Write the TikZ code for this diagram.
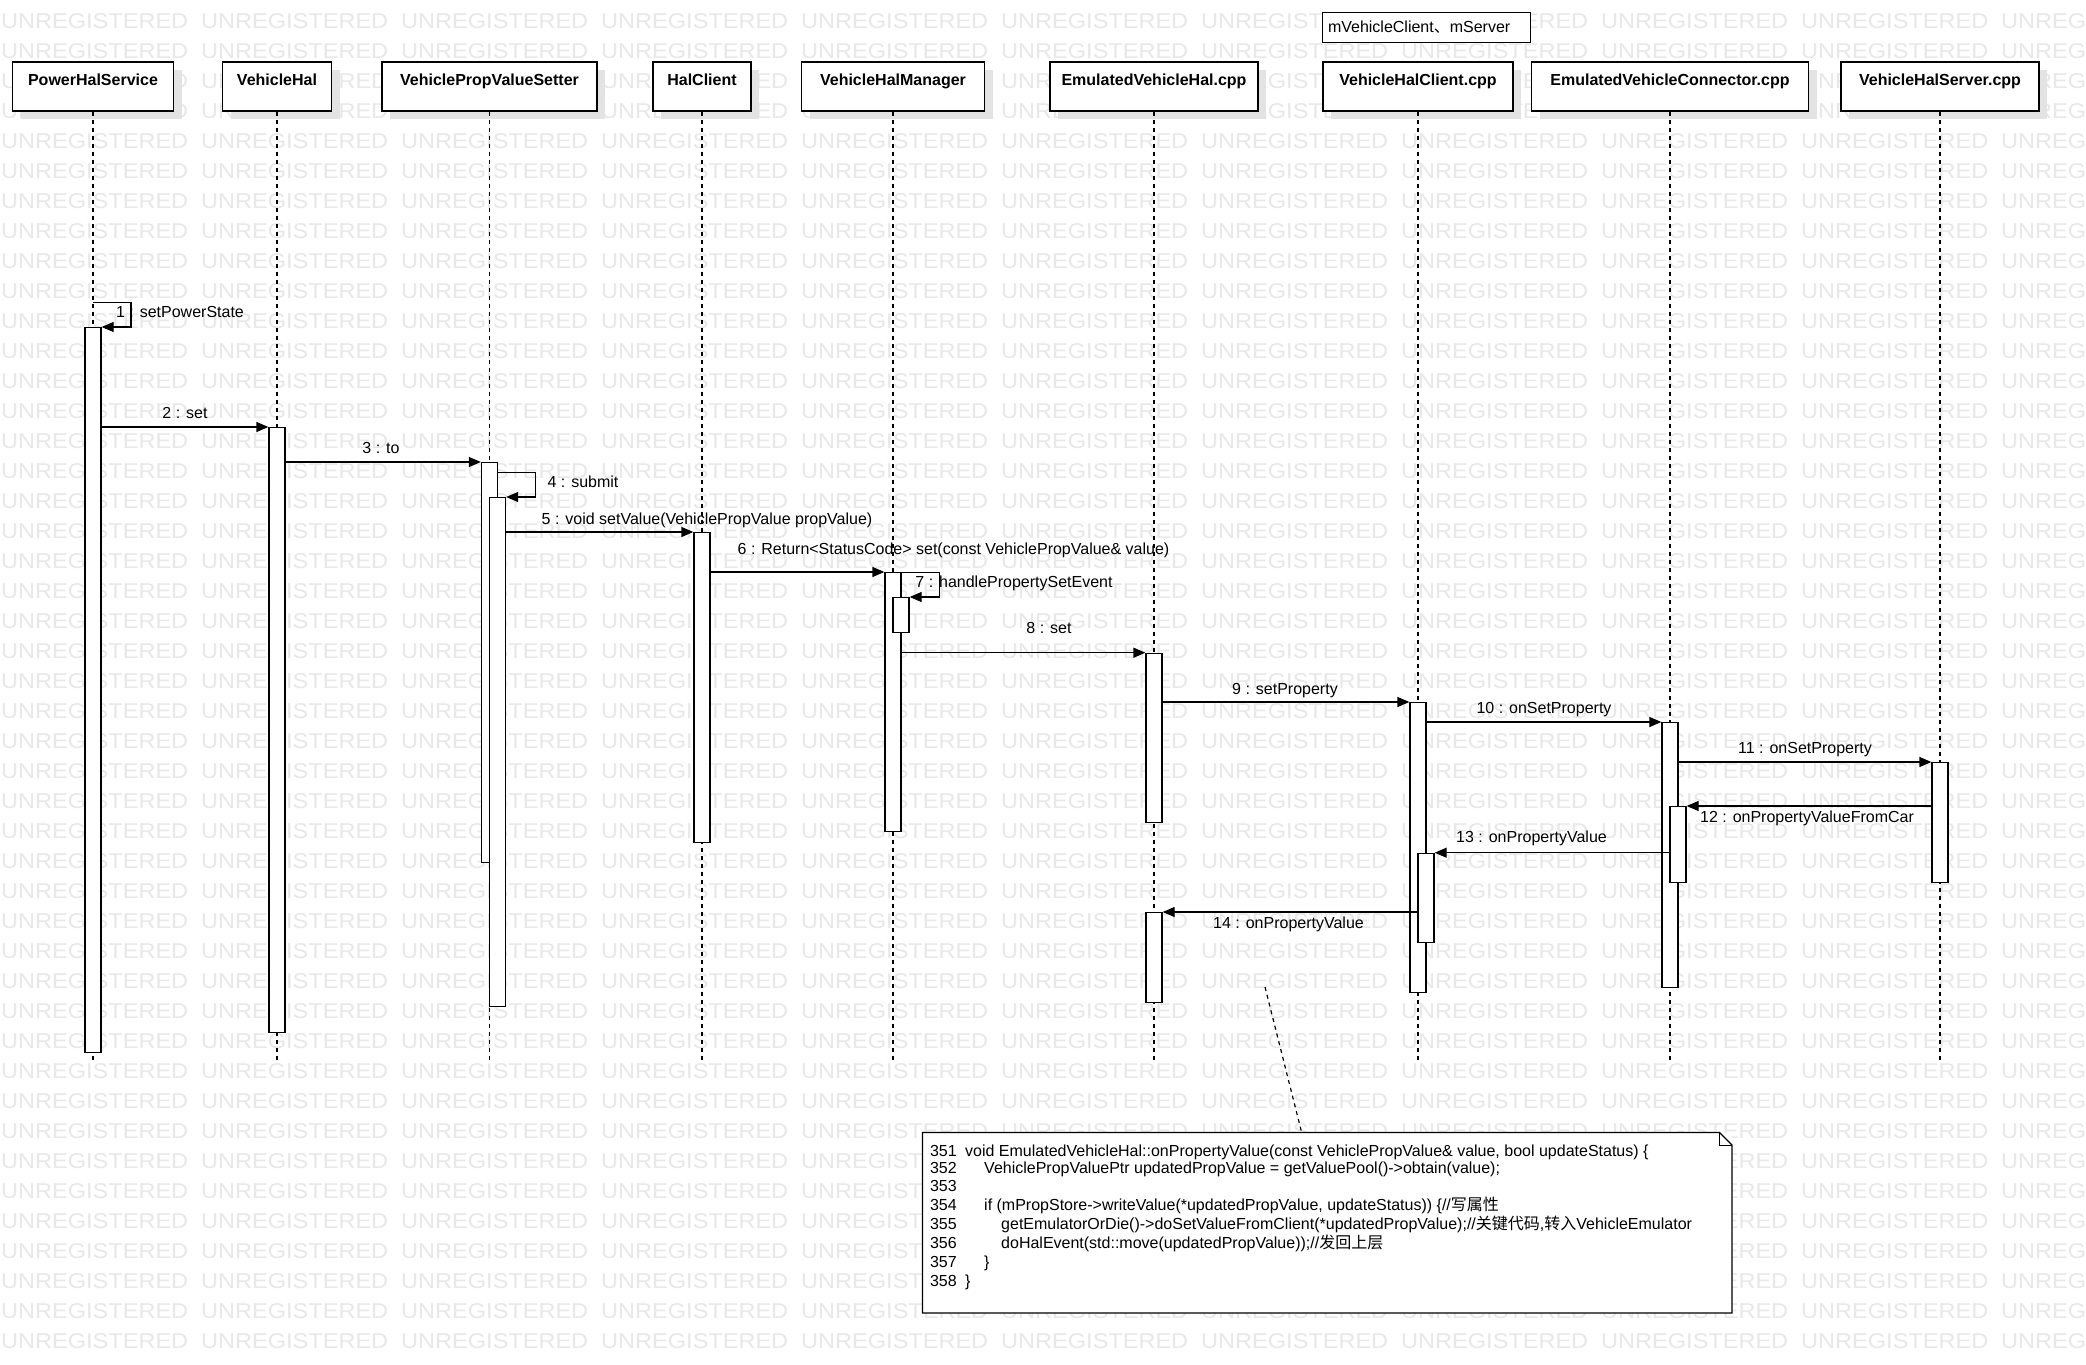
\documentclass[tikz,border=0pt]{standalone}
\usepackage{fontspec}
\setmainfont{Liberation Sans}
\newfontfamily\cjk{Noto Sans CJK SC}
\newfontfamily\wmfont{Liberation Sans}[FakeStretch=1.1]
\usetikzlibrary{arrows.meta,shadows}
\definecolor{wmgray}{RGB}{232,232,232}
\begin{document}
\begin{tikzpicture}[x=1pt,y=-1pt,
  hdr/.style={draw, fill=white, line width=1.3pt, inner xsep=0pt, inner ysep=0pt,
    text height=23.1pt, text depth=25.9pt, minimum height=49pt,
    font=\fontsize{16}{19}\selectfont\bfseries,
    general shadow={fill=black!11, shadow xshift=8pt, shadow yshift=-8pt}},
  bar/.style={draw, fill=white, line width=1.3pt, minimum width=16pt, inner sep=0pt, anchor=north},
  msg/.style={line width=1.3pt, -{Triangle[length=12pt,width=10pt]}},
  lbl/.style={font=\fontsize{16}{19}\selectfont, inner sep=0pt, anchor=base},
  life/.style={line width=1.2pt, dash pattern=on 4.5pt off 3.5pt},
  wm/.style={font=\wmfont\fontsize{21.4}{24}\selectfont, text=wmgray, inner sep=0pt, anchor=base west},
  code/.style={font=\fontsize{16}{19}\selectfont, inner sep=0pt, anchor=base west}]
\useasboundingbox (0,0) rectangle (2086,1365);
\fill[white] (0,0) rectangle (2086,1365);
% watermark
\begin{scope}
\clip (0,0) rectangle (2086,1365);
\foreach \r in {0,...,44}{\foreach \c in {0,...,10}{
  \node[wm] (wm-\r-\c) at ({200*\c+1},{28.2+30*\r}) {UNREGISTERED};}}
\end{scope}
% headers
\node[hdr, minimum width=161pt] (H1) at (93,86.5) {PowerHalService};
\node[hdr, minimum width=109pt] (H2) at (277,86.5) {VehicleHal};
\node[hdr, minimum width=215pt] (H3) at (489.5,86.5) {VehiclePropValueSetter};
\node[hdr, minimum width=98pt] (H4) at (702,86.5) {HalClient};
\node[hdr, minimum width=183pt] (H5) at (893,86.5) {VehicleHalManager};
\node[hdr, minimum width=208pt] (H6) at (1154,86.5) {EmulatedVehicleHal.cpp};
\node[hdr, minimum width=190pt] (H7) at (1418,86.5) {VehicleHalClient.cpp};
\node[hdr, minimum width=277pt] (H8) at (1670,86.5) {EmulatedVehicleConnector.cpp};
\node[hdr, minimum width=198pt] (H9) at (1940,86.5) {VehicleHalServer.cpp};
\node[draw, fill=white, line width=1pt, inner xsep=6pt, inner ysep=0pt, text width=196pt,
  minimum height=30pt, font=\fontsize{16}{19}\selectfont] (mv) at (1426,27.3)
  {mVehicleClient{\cjk 、}mServer};
% lifelines
\foreach \h in {H1,H2,H3,H4,H5,H6,H7,H8,H9}{
  \path (\h.south) ++(0,950) coordinate (\h-end);
  \draw[life] (\h.south) -- (\h-end);}
% activation bars
\node[bar, minimum height=725pt] (A1) at (93,327) {};
\node[bar, minimum height=605pt] (A2) at (277,427) {};
\node[bar, minimum height=400pt] (A3) at (489.5,462) {};
\node[bar, minimum height=509pt] (A4) at (497.5,497) {};
\node[bar, minimum height=310pt] (A5) at (702,532) {};
\node[bar, minimum height=259pt] (A6) at (893,572) {};
\node[bar, minimum height=35pt] (A7) at (901,597) {};
\node[bar, minimum height=169.3pt] (A8) at (1154,652.7) {};
\node[bar, minimum height=290pt] (A9) at (1418,702) {};
\node[bar, minimum height=265pt] (A10) at (1670,722) {};
\node[bar, minimum height=120pt] (A11) at (1940,762) {};
\node[bar, minimum height=76pt] (A12) at (1678,806) {};
\node[bar, minimum height=89.3pt] (A13) at (1426,852.7) {};
\node[bar, minimum height=90pt] (A14) at (1154,912) {};
% message levels
\coordinate (y1) at (0,302.7);
\coordinate (y2) at (0,427);
\coordinate (y3) at (0,462);
\coordinate (y4) at (0,472.7);
\coordinate (y5) at (0,532);
\coordinate (y6) at (0,572);
\coordinate (y7) at (0,572.7);
\coordinate (y8) at (0,652.7);
\coordinate (y9) at (0,702);
\coordinate (y10) at (0,722);
\coordinate (y11) at (0,762);
\coordinate (y12) at (0,806);
\coordinate (y13) at (0,852.7);
\coordinate (y14) at (0,912);
% messages
\draw[msg] (H1.south |- y1) -- ++(38,0) -- ++(0,24.3) -- (A1.north east);
\draw[msg] (A1.east |- y2) -- (A2.north west);
\draw[msg] (A2.east |- y3) -- (A3.north west);
\draw[msg] (A3.east |- y4) -- ++(37.5,0) -- ++(0,24.3) -- (A4.north east);
\draw[msg] (A4.east |- y5) -- (A5.north west);
\draw[msg] (A5.east |- y6) -- (A6.north west);
\draw[msg] (A6.east |- y7) -- ++(38,0) -- ++(0,24.3) -- (A7.north east);
\draw[msg] (A6.east |- y8) -- (A8.north west);
\draw[msg] (A8.east |- y9) -- (A9.north west);
\draw[msg] (A9.east |- y10) -- (A10.north west);
\draw[msg] (A10.east |- y11) -- (A11.north west);
\draw[msg] (A11.west |- y12) -- (A12.north east);
\draw[msg] (A12.west |- y13) -- (A13.north east);
\draw[msg] (A13.west |- y14) -- (A14.north east);
% labels
\node[lbl] (l1) at (180,317.7) {1 : setPowerState};
\node[lbl] (l2) at (185,418.7) {2 : set};
\node[lbl] (l3) at (381,453.7) {3 : to};
\node[lbl] (l4) at (583,487.7) {4 : submit};
\node[lbl] (l5) at (707,524.7) {5 : void setValue(VehiclePropValue propValue)};
\node[lbl] (l6) at (953.5,554.7) {6 : Return<StatusCode> set(const VehiclePropValue\& value)};
\node[lbl] (l7) at (1014,587.7) {7 : handlePropertySetEvent};
\node[lbl] (l8) at (1049,633.7) {8 : set};
\node[lbl] (l9) at (1285,694.7) {9 : setProperty};
\node[lbl] (l10) at (1544,713.7) {10 : onSetProperty};
\node[lbl] (l11) at (1805,753.7) {11 : onSetProperty};
\node[lbl] (l12) at (1807,822.7) {12 : onPropertyValueFromCar};
\node[lbl] (l13) at (1531.5,842.7) {13 : onPropertyValue};
\node[lbl] (l14) at (1288.5,928.7) {14 : onPropertyValue};
% note
\node[fill=white, minimum width=809pt, minimum height=180pt, inner sep=0pt] (note) at (1327.25,1222.7) {};
\draw[line width=1.3pt] (note.north west) -- ([xshift=-12.5pt]note.north east)
  -- ([yshift=-12.5pt]note.north east) -- (note.south east) -- (note.south west) -- cycle;
\draw[line width=1pt] ([xshift=-12.5pt]note.north east) -- ([xshift=-12.5pt,yshift=-12.5pt]note.north east)
  -- ([yshift=-12.5pt]note.north east);
\coordinate (nl) at (1265,987);
\coordinate (nb) at (1301.7,1132.7);
\draw[line width=1.2pt, dash pattern=on 4pt off 4pt] (nl) -- (nb);
% code text
\node[code] (n1) at (929.8,1156.4) {351};
\node[code] (n2) at (929.8,1173.7) {352};
\node[code] (n3) at (929.8,1191.4) {353};
\node[code] (n4) at (929.8,1210.7) {354};
\node[code] (n5) at (929.8,1229.7) {355};
\node[code] (n6) at (929.8,1248.7) {356};
\node[code] (n7) at (929.8,1267.4) {357};
\node[code] (n8) at (929.8,1286.4) {358};
\node[code] (c1) at (965,1156.4) {void EmulatedVehicleHal::onPropertyValue(const VehiclePropValue\& value, bool updateStatus) \{};
\node[code] (c2) at (984,1173.7) {VehiclePropValuePtr updatedPropValue = getValuePool()->obtain(value);};
\node[code] (c4) at (984,1210.7) {if (mPropStore->writeValue(*updatedPropValue, updateStatus)) \{//{\cjk 写属性}};
\node[code] (c5) at (1001,1229.7) {getEmulatorOrDie()->doSetValueFromClient(*updatedPropValue);//{\cjk 关键代码},{\cjk 转入}VehicleEmulator};
\node[code] (c6) at (1001,1248.7) {doHalEvent(std::move(updatedPropValue));//{\cjk 发回上层}};
\node[code] (c7) at (984,1267.4) {\}};
\node[code] (c8) at (965,1286.4) {\}};
\end{tikzpicture}
\end{document}
